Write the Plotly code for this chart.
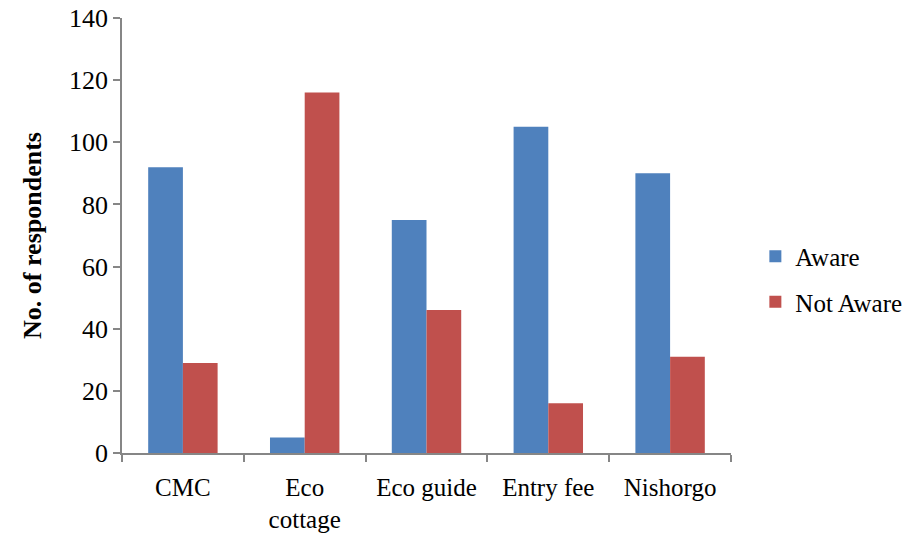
import plotly.graph_objects as go

categories = ["CMC", "Eco<br>cottage", "Eco guide", "Entry fee", "Nishorgo"]
aware = [92, 5, 75, 105, 90]
not_aware = [29, 116, 46, 16, 31]

font_family = "Liberation Serif, Times New Roman, serif"
axis_grey = "#868686"

fig = go.Figure()
fig.add_trace(go.Bar(name="Aware", x=categories, y=aware,
                     marker=dict(color="#4F81BD", line=dict(width=0)),
                     legendgroup="a"))
fig.add_trace(go.Bar(name="Not Aware", x=categories, y=not_aware,
                     marker=dict(color="#C0504D", line=dict(width=0)),
                     legendgroup="b"))

fig.update_layout(
    width=909, height=538,
    margin=dict(l=122, r=178, t=18, b=85, autoexpand=False),
    plot_bgcolor="white", paper_bgcolor="white",
    barmode="group", bargap=0.43, bargroupgap=0,
    font=dict(family=font_family, size=25, color="#000000"),
    legend=dict(x=1.04, y=0.40, xanchor="left", yanchor="middle",
                font=dict(size=25), traceorder="grouped",
                tracegroupgap=10, itemwidth=30),
    showlegend=True,
)
fig.update_xaxes(
    showline=True, linecolor=axis_grey, linewidth=1.5,
    ticks="outside", tickson="boundaries", ticklen=7, tickcolor=axis_grey,
    tickwidth=1.5, tickfont=dict(size=25), showgrid=False,
    ticklabelstandoff=11,
)
fig.update_yaxes(
    range=[0, 140], dtick=20, showline=True, linecolor=axis_grey, linewidth=1.5,
    ticks="outside", ticklen=7, tickcolor=axis_grey, tickwidth=1.5,
    tickfont=dict(size=26), showgrid=False, zeroline=False,
    title=dict(text="<b>No. of respondents</b>", font=dict(size=26), standoff=20),
)

fig.write_html("out.html")
